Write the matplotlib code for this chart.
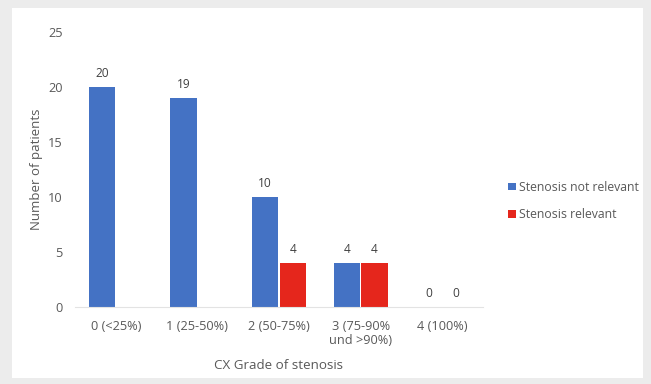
import numpy as np
import matplotlib.pyplot as plt
from matplotlib.patches import Rectangle

grades = ['0 (<25%)', '1 (25-50%)', '2 (50-75%)', '3 (75-90%\nund >90%)', '4 (100%)']
not_relevant = [20, 19, 10, 4, 0]
relevant = [None, None, 4, 4, 0]

blue = '#4472C4'
red = '#E5261C'
grey_txt = '#595959'

plt.rcParams['font.family'] = ['Open Sans', 'DejaVu Sans']

fig = plt.figure(figsize=(6.51, 3.84), dpi=100, facecolor='#ececec')
# white chart area inside the grey frame
fig.patches.append(Rectangle((12 / 651, 6 / 384), 631 / 651, 370 / 384,
                             transform=fig.transFigure, facecolor='white',
                             edgecolor='none', zorder=-5))

ax = fig.add_axes([75 / 651, 1 - 307 / 384, 408 / 651, 275 / 384])
ax.set_facecolor('none')

x = np.arange(len(grades))
w = 0.32
b1 = ax.bar(x - 0.17, not_relevant, w, color=blue, label='Stenosis not relevant')
rel_vals = [v if v is not None else 0 for v in relevant]
b2 = ax.bar(x + 0.17, rel_vals, w, color=red, label='Stenosis relevant')

ax.bar_label(b1, labels=[str(v) for v in not_relevant], padding=5,
             fontsize=8.6, color='#404040')
ax.bar_label(b2, labels=['' if v is None else str(v) for v in relevant],
             padding=5, fontsize=8.6, color='#404040')

ax.set_xlim(-0.5, 4.5)
ax.set_ylim(0, 25)
ax.set_yticks(range(0, 26, 5))
ax.set_xticks(x, labels=grades)
ax.tick_params(axis='both', length=0, labelsize=9.2, labelcolor=grey_txt)
ax.tick_params(axis='y', pad=9)
ax.tick_params(axis='x', pad=9)

for s in ['top', 'right', 'left']:
    ax.spines[s].set_visible(False)
ax.spines['bottom'].set_color('#e3e3e3')

ax.set_xlabel('CX Grade of stenosis', fontsize=9.6, color=grey_txt)
ax.set_ylabel('Number of patients', fontsize=9.5, color=grey_txt)
ax.xaxis.set_label_coords(0.5, -0.19)
ax.yaxis.set_label_coords(-0.078, 0.5)

ax.legend(loc='center left', bbox_to_anchor=(1.035, 0.385), frameon=False,
          fontsize=8.8, labelcolor=grey_txt, handlelength=0.6, handleheight=0.6,
          handletextpad=0.3, labelspacing=1.2)

fig.savefig('out.png', dpi=100, facecolor=fig.get_facecolor())
